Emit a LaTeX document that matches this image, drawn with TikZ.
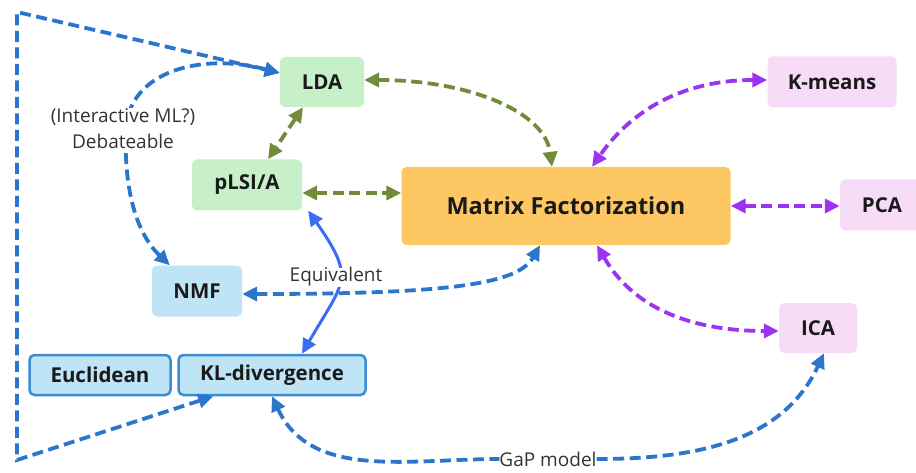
\documentclass[tikz,border=0pt]{standalone}
\usepackage{fontspec}
\setmainfont{Open Sans}
\usetikzlibrary{arrows.meta,calc}
\definecolor{gfill}{HTML}{C8F0C8}
\definecolor{garr}{HTML}{708C3A}
\definecolor{parr}{HTML}{9B33F0}
\definecolor{pfill}{HTML}{F6DCF6}
\definecolor{barr}{HTML}{2B76CA}
\definecolor{bsolid}{HTML}{3B6CF5}
\definecolor{bfill}{HTML}{BEE4F5}
\definecolor{bborder}{HTML}{3C8CD2}
\definecolor{mfill}{HTML}{FDC864}
\definecolor{txt}{HTML}{1A1A1A}
\begin{document}
\begin{tikzpicture}[x=1pt,y=1pt,
  >={Triangle[length=15pt,width=14pt]},
  box/.style={rounded corners=5pt, inner sep=0pt, font=\fontsize{20.5}{24}\selectfont\bfseries, text=txt},
  greenbox/.style={box, fill=gfill},
  purplebox/.style={box, fill=pfill},
  bluebox/.style={box, fill=bfill},
  borderbox/.style={box, fill=bfill, draw=bborder, line width=2.5pt},
  lbl/.style={font=\fontsize{19}{26}\selectfont, text=black!80, inner sep=1pt},
  dashline/.style={line width=3.8pt, dash pattern=on 11pt off 5.5pt},
  garrow/.style={dashline, draw=garr, <->},
  parrow/.style={dashline, draw=parr, <->},
  barrow/.style={dashline, draw=barr, <->},
]
\useasboundingbox (0,0) rectangle (916,472);

% nodes
\node[greenbox, minimum width=84pt, minimum height=50pt] (LDA) at (322,390) {LDA};
\node[greenbox, minimum width=110pt, minimum height=51pt] (pLSI) at (247,287) {pLSI/A};
\node[box, fill=mfill, minimum width=329pt, minimum height=78pt, font=\fontsize{23.5}{28}\selectfont\bfseries] (MF) at (566,266) {Matrix Factorization};
\node[purplebox, minimum width=129pt, minimum height=51pt] (KM) at (832,390) {K-means};
\node[purplebox, minimum width=84pt, minimum height=51pt] (PCA) at (882,267) {PCA};
\node[purplebox, minimum width=78pt, minimum height=50pt] (ICA) at (818,144) {ICA};
\node[bluebox, minimum width=90pt, minimum height=51pt] (NMF) at (197,181) {NMF};
\node[borderbox, minimum width=141pt, minimum height=40pt] (EU) at (100,97) {Euclidean};
\node[borderbox, minimum width=187pt, minimum height=40pt] (KL) at (272,97) {KL-divergence};

\coordinate (bl) at (17,12);
\coordinate (tl) at (17,460);

% green connectors
\draw[garrow] ([yshift=2pt]LDA.east) .. controls (470,392) and (545,360) .. ([xshift=-14pt]MF.north);
\draw[garrow] ([xshift=-19pt]LDA.south) -- ([xshift=21pt]pLSI.north);
\draw[garrow] ([yshift=-8pt]pLSI.east) -- ([yshift=-8pt]pLSI.east -| MF.west);

% purple connectors
\draw[parrow] ([yshift=2pt]KM.west) to[out=180,in=55] ([xshift=26pt]MF.north);
\draw[parrow] (MF.east) -- (MF.east -| PCA.west);
\draw[parrow] ([xshift=31pt]MF.south) to[out=-60,in=180] ([yshift=-3pt]ICA.west);

% blue connectors
\draw[barrow] ([yshift=-3pt]NMF.east) .. controls (450,178) and (518,188) .. ([xshift=-26pt]MF.south);
\draw[barrow] ([xshift=36pt]KL.south west) -- (bl) -- (tl) -- ([yshift=9pt]LDA.west);
\draw[barrow] ([yshift=9pt]LDA.west) .. controls (200,420) and (130,400) .. (126,344)
  .. controls (124,300) and (130,245) .. ([xshift=18pt]NMF.north west);
\node[lbl, fill=white, align=center] (deb) at (123,343) {(Interactive ML?)\\Debateable};

\node[lbl, inner sep=0pt] (gap) at (548,13) {GaP model};
\draw[dashline, draw=barr, <-] (KL.south) to[out=-65,in=180] (gap.west);
\draw[dashline, draw=barr, ->] (gap.east) to[out=0,in=-115] ([xshift=6pt]ICA.south);

\draw[line width=3pt, draw=bsolid, <->] ([xshift=6pt]pLSI.south east) to[out=-55,in=60,looseness=1.5] ([xshift=30pt]KL.north);
\node[lbl, fill=white, inner sep=0pt] (eq) at (336,195) {Equivalent};
\end{tikzpicture}
\end{document}
